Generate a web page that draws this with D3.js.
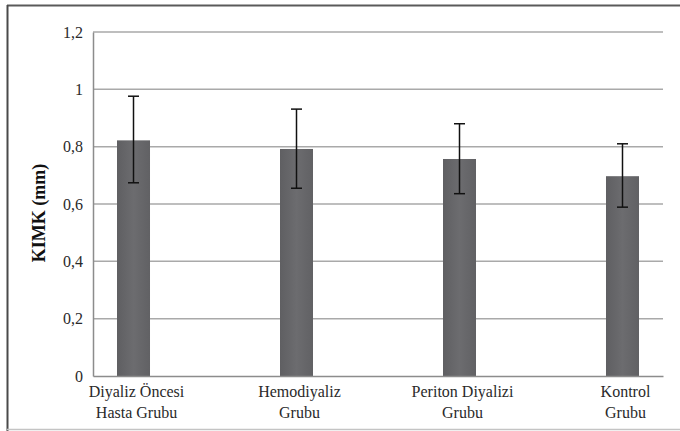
<!DOCTYPE html>
<html>
<head>
<meta charset="utf-8">
<script src="https://cdn.jsdelivr.net/npm/d3@7"></script>
<style>
  html, body { margin: 0; padding: 0; background: #fff; }
  svg { display: block; }
</style>
</head>
<body>
<svg id="chart" width="680" height="431"></svg>
<script>
const categories = [["Diyaliz Öncesi", "Hasta Grubu"], ["Hemodiyaliz", "Grubu"], ["Periton Diyalizi", "Grubu"], ["Kontrol", "Grubu"]];
const means = [0.822, 0.792, 0.757, 0.697];
const errUpper = [0.976, 0.931, 0.880, 0.810];
const errLower = [0.674, 0.655, 0.636, 0.589];
const yTicks = [0, 0.2, 0.4, 0.6, 0.8, 1, 1.2];
const yTitle = "KIMK (mm)";

const FONT = "Liberation Serif";
const svg = d3.select("#chart");
const W = 680, H = 431;
const plot = { left: 93, right: 663, top: 32, bottom: 376 };

// outer frame
svg.append("line").attr("x1", 7).attr("x2", W).attr("y1", 5.5).attr("y2", 5.5)
  .attr("stroke", "#5a5a5a").attr("stroke-width", 2);
svg.append("line").attr("x1", 7.5).attr("x2", 7.5).attr("y1", 5).attr("y2", H)
  .attr("stroke", "#4a4a4a").attr("stroke-width", 2);
svg.append("line").attr("x1", 7).attr("x2", W).attr("y1", 429.5).attr("y2", 429.5)
  .attr("stroke", "#c4c4c4").attr("stroke-width", 1.5);

const x = d3.scalePoint()
  .domain(d3.range(categories.length))
  .range([plot.left, plot.right])
  .padding(0.2485);
const y = d3.scaleLinear().domain([0, 1.2]).range([plot.bottom, plot.top]);

// gridlines
svg.append("g").selectAll("line").data(yTicks.filter(d => d > 0)).join("line")
  .attr("x1", plot.left).attr("x2", plot.right)
  .attr("y1", d => y(d)).attr("y2", d => y(d))
  .attr("stroke", "#a9a9a9").attr("stroke-width", 1.5);

// y axis
const yAxis = d3.axisLeft(y).tickValues(yTicks)
  .tickFormat(d => String(d).replace(".", ","))
  .tickSize(0).tickPadding(10);
const gy = svg.append("g").attr("transform", `translate(${plot.left},0)`).call(yAxis);
gy.attr("font-family", FONT).attr("font-size", 16);
gy.select(".domain").attr("stroke", "#8c8c8c").attr("stroke-width", 1.5);
gy.selectAll("text").attr("font-family", FONT).attr("font-size", 16).attr("fill", "#2a2a2a");

// bars
const barW = 33;
const grad = svg.append("defs").append("linearGradient").attr("id", "barGrad")
  .attr("x1", 0).attr("x2", 1).attr("y1", 0).attr("y2", 0);
grad.append("stop").attr("offset", "0%").attr("stop-color", "#5f5f62");
grad.append("stop").attr("offset", "50%").attr("stop-color", "#6c6c6f");
grad.append("stop").attr("offset", "100%").attr("stop-color", "#616164");

svg.append("g").selectAll("rect").data(means).join("rect")
  .attr("x", (d, i) => x(i) - barW / 2)
  .attr("width", barW)
  .attr("y", d => y(d))
  .attr("height", d => y(0) - y(d))
  .attr("fill", "url(#barGrad)");

// x baseline
const xAxis = d3.axisBottom(x).tickSize(0).tickFormat("");
const gx = svg.append("g").attr("transform", `translate(0,${plot.bottom})`).call(xAxis);
gx.select(".domain").attr("stroke", "#8c8c8c").attr("stroke-width", 1.5);

// error bars
const capW = 11;
const eb = svg.append("g").selectAll("g").data(means).join("g");
eb.append("line")
  .attr("x1", (d, i) => x(i)).attr("x2", (d, i) => x(i))
  .attr("y1", (d, i) => y(errUpper[i])).attr("y2", (d, i) => y(errLower[i]))
  .attr("stroke", "#111").attr("stroke-width", 1.5);
eb.append("line")
  .attr("x1", (d, i) => x(i) - capW / 2).attr("x2", (d, i) => x(i) + capW / 2)
  .attr("y1", (d, i) => y(errUpper[i])).attr("y2", (d, i) => y(errUpper[i]))
  .attr("stroke", "#111").attr("stroke-width", 1.5);
eb.append("line")
  .attr("x1", (d, i) => x(i) - capW / 2).attr("x2", (d, i) => x(i) + capW / 2)
  .attr("y1", (d, i) => y(errLower[i])).attr("y2", (d, i) => y(errLower[i]))
  .attr("stroke", "#111").attr("stroke-width", 1.5);

// category labels
const cl = svg.append("g").selectAll("text").data(categories).join("text")
  .attr("text-anchor", "middle")
  .attr("font-family", FONT)
  .attr("font-size", 16).attr("fill", "#2a2a2a");
cl.each(function(d, i) {
  const t = d3.select(this);
  d.forEach((line, j) => {
    t.append("tspan").attr("x", x(i) + 3).attr("y", 397 + j * 21).text(line);
  });
});

// y title
svg.append("text")
  .attr("transform", `translate(45,${(plot.top + plot.bottom) / 2 + 9}) rotate(-90)`)
  .attr("text-anchor", "middle")
  .attr("font-family", FONT)
  .attr("font-size", 18).attr("font-weight", "bold").attr("fill", "#111")
  .text(yTitle);
</script>
</body>
</html>
